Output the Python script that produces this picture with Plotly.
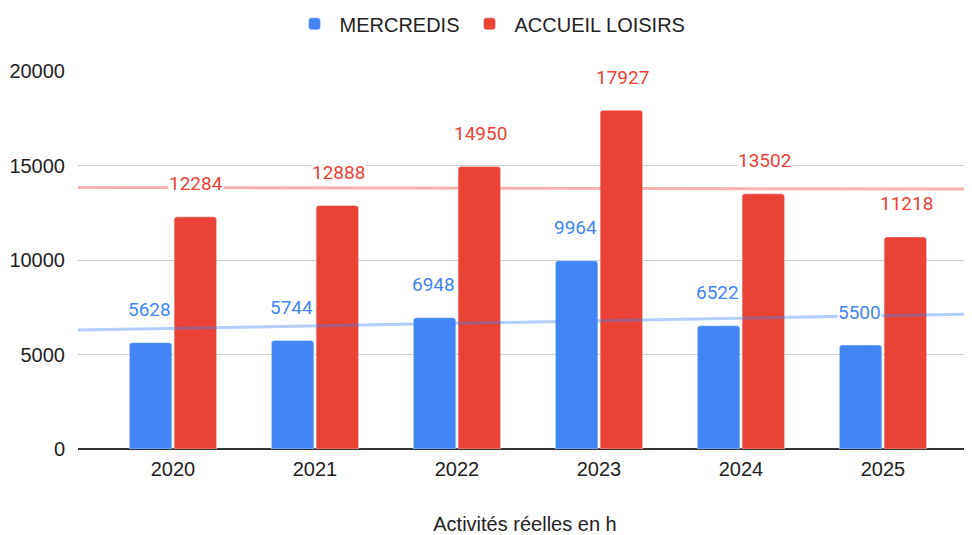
import numpy as np
import plotly.graph_objects as go

years = ["2020", "2021", "2022", "2023", "2024", "2025"]
mercredis = [5628, 5744, 6948, 9964, 6522, 5500]
accueil = [12284, 12888, 14950, 17927, 13502, 11218]
y_ticks = [0, 5000, 10000, 15000, 20000]
y_ticktext = ["0", "5000", "10000", "15000", "20000"]

BLUE = "#4285F4"
RED = "#EA4335"
BLUE_T = "rgba(66,133,244,0.4)"
RED_T = "rgba(234,67,53,0.4)"

x = np.arange(len(years))
xr = [-0.669, 5.627]

fig = go.Figure()
fig.add_bar(x=x, y=mercredis, name="MERCREDIS", marker_color=BLUE, offsetgroup="a")
fig.add_bar(x=x, y=accueil, name="ACCUEIL LOISIRS", marker_color=RED, offsetgroup="b")

for vals, col in [(mercredis, BLUE_T), (accueil, RED_T)]:
    m, b = np.polyfit(x, vals, 1)
    xs = np.array(xr)
    fig.add_scatter(x=xs, y=m * xs + b, mode="lines", line=dict(color=col, width=3),
                    showlegend=False, hoverinfo="skip")

annotations = []
for vals, col, off in [(mercredis, BLUE, -0.165), (accueil, RED, 0.165)]:
    for i, v in enumerate(vals):
        annotations.append(dict(x=i + off, y=v, text=str(v), showarrow=False,
                                yshift=33, bgcolor="white", borderpad=0,
                                font=dict(family="Roboto", size=19, color=col)))

fig.update_layout(
    width=964, height=527,
    paper_bgcolor="white", plot_bgcolor="white",
    margin=dict(l=70, r=0, t=63, b=86, autoexpand=False),
    barmode="group", bargap=0.37, bargroupgap=0.05, barcornerradius=3,
    font=dict(family="Liberation Sans, Arial", size=20, color="#222"),
    legend=dict(orientation="h", x=0.5, xanchor="center", xref="container",
                y=0.97, yanchor="middle", yref="container", itemwidth=40,
                font=dict(size=20), traceorder="normal"),
    annotations=annotations,
    xaxis=dict(range=xr, tickvals=list(x), ticktext=years, showgrid=False,
               showline=False, zeroline=False, ticks="", ticklabelstandoff=6,
               automargin=False,
               title=dict(text="Activités réelles en h", standoff=39,
                          font=dict(size=20))),
    yaxis=dict(range=[0, 20000], tickvals=y_ticks, ticktext=y_ticktext, showgrid=True,
               gridcolor="#cccccc", automargin=False,
               gridwidth=1, zeroline=True, zerolinecolor="#333333", zerolinewidth=1.5,
               ticks="", ticklabelstandoff=12, showline=False),
)

fig.write_html("out.html")
